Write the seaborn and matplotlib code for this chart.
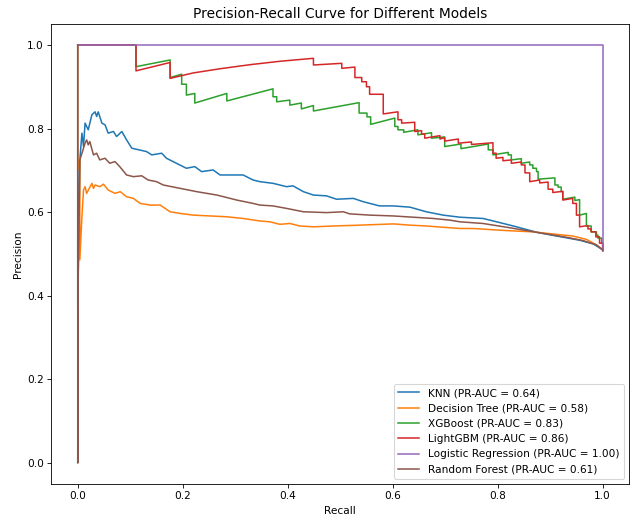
import matplotlib
matplotlib.use("Agg")
import matplotlib.pyplot as plt
import seaborn as sns
import pandas as pd

models = ["KNN", "Decision Tree", "XGBoost", "LightGBM", "Logistic Regression", "Random Forest"]
pr_auc = [0.64, 0.58, 0.83, 0.86, 1.00, 0.61]

knn_recall = [0.0, 0.0, 0.004, 0.008, 0.011, 0.014, 0.020, 0.027, 0.033, 0.036, 0.039, 0.046, 0.052, 0.058,
              0.068, 0.074, 0.084, 0.093, 0.103, 0.131, 0.141, 0.160, 0.169, 0.207, 0.223, 0.236, 0.258,
              0.271, 0.315, 0.334, 0.347, 0.372, 0.398, 0.410, 0.430, 0.449, 0.474, 0.493, 0.525, 0.544,
              0.575, 0.601, 0.633, 0.664, 0.696, 0.728, 0.772, 0.798, 0.836, 0.874, 0.912, 0.956, 0.982, 1.0]
knn_precision = [1.0, 0.37, 0.725, 0.789, 0.757, 0.813, 0.797, 0.833, 0.840, 0.829, 0.840, 0.813, 0.809, 0.789,
                 0.793, 0.781, 0.793, 0.773, 0.753, 0.745, 0.737, 0.741, 0.729, 0.705, 0.709, 0.697, 0.701,
                 0.689, 0.689, 0.677, 0.673, 0.669, 0.661, 0.663, 0.649, 0.641, 0.639, 0.631, 0.633, 0.625,
                 0.615, 0.615, 0.612, 0.601, 0.593, 0.588, 0.585, 0.577, 0.565, 0.552, 0.543, 0.533, 0.524, 0.510]

dt_recall = [0.0, 0.0, 0.004, 0.004, 0.008, 0.011, 0.014, 0.017, 0.027, 0.030, 0.033, 0.042, 0.049, 0.058,
             0.071, 0.081, 0.093, 0.106, 0.119, 0.138, 0.157, 0.176, 0.195, 0.220, 0.252, 0.284, 0.315,
             0.347, 0.366, 0.385, 0.404, 0.423, 0.449, 0.487, 0.537, 0.601, 0.633, 0.664, 0.696, 0.728,
             0.753, 0.817, 0.867, 0.912, 0.943, 0.969, 0.988, 1.0]
dt_precision = [1.0, 0.70, 0.732, 0.486, 0.589, 0.653, 0.661, 0.645, 0.669, 0.657, 0.665, 0.661, 0.667, 0.653,
                0.645, 0.649, 0.637, 0.633, 0.621, 0.617, 0.617, 0.601, 0.597, 0.593, 0.591, 0.589, 0.585,
                0.579, 0.577, 0.571, 0.573, 0.567, 0.565, 0.567, 0.569, 0.572, 0.569, 0.567, 0.564, 0.561,
                0.561, 0.556, 0.553, 0.547, 0.543, 0.535, 0.522, 0.510]

xgb_recall = [0.0, 0.111, 0.111, 0.176, 0.176, 0.198, 0.198, 0.207, 0.207, 0.223, 0.223, 0.284, 0.284,
              0.372, 0.372, 0.379, 0.379, 0.404, 0.404, 0.426, 0.426, 0.449, 0.449, 0.536, 0.536, 0.551,
              0.551, 0.558, 0.558, 0.604, 0.604, 0.610, 0.610, 0.621, 0.621, 0.648, 0.648, 0.674, 0.674,
              0.699, 0.699, 0.730, 0.730, 0.782, 0.782, 0.791, 0.791, 0.820, 0.820, 0.826, 0.826, 0.845,
              0.845, 0.861, 0.861, 0.867, 0.867, 0.874, 0.874, 0.877, 0.877, 0.909, 0.909, 0.915, 0.915,
              0.921, 0.921, 0.924, 0.924, 0.947, 0.947, 0.956, 0.956, 0.969, 0.969, 0.978, 0.978, 0.988,
              0.988, 0.991, 0.991, 0.998, 0.998, 1.0, 1.0]
xgb_precision = [1.0, 1.0, 0.948, 0.964, 0.922, 0.930, 0.906, 0.906, 0.880, 0.884, 0.861, 0.884, 0.866,
                 0.895, 0.876, 0.876, 0.864, 0.868, 0.856, 0.861, 0.847, 0.855, 0.842, 0.862, 0.837, 0.837,
                 0.828, 0.828, 0.810, 0.825, 0.805, 0.805, 0.797, 0.797, 0.791, 0.797, 0.785, 0.790, 0.777,
                 0.780, 0.757, 0.763, 0.752, 0.763, 0.749, 0.749, 0.737, 0.743, 0.737, 0.737, 0.725, 0.728,
                 0.717, 0.720, 0.713, 0.713, 0.705, 0.705, 0.697, 0.697, 0.679, 0.682, 0.665, 0.665, 0.660,
                 0.660, 0.649, 0.649, 0.631, 0.636, 0.628, 0.630, 0.593, 0.597, 0.567, 0.567, 0.553, 0.553,
                 0.545, 0.545, 0.538, 0.538, 0.526, 0.526, 0.508]

lgbm_recall = [0.0, 0.111, 0.111, 0.176, 0.176, 0.220, 0.271, 0.330, 0.386, 0.449, 0.449, 0.503, 0.503,
               0.528, 0.528, 0.541, 0.541, 0.550, 0.550, 0.556, 0.556, 0.582, 0.582, 0.610, 0.610, 0.617,
               0.617, 0.642, 0.642, 0.655, 0.655, 0.661, 0.661, 0.690, 0.690, 0.699, 0.699, 0.725, 0.725,
               0.750, 0.750, 0.791, 0.791, 0.797, 0.797, 0.810, 0.810, 0.826, 0.826, 0.845, 0.845, 0.852,
               0.852, 0.861, 0.861, 0.880, 0.880, 0.896, 0.896, 0.905, 0.905, 0.924, 0.924, 0.943, 0.943,
               0.950, 0.950, 0.956, 0.956, 0.972, 0.972, 0.978, 0.978, 0.987, 0.987, 0.994, 0.994, 1.0, 1.0]
lgbm_precision = [1.0, 1.0, 0.938, 0.958, 0.920, 0.933, 0.943, 0.953, 0.961, 0.968, 0.952, 0.956, 0.944,
                  0.947, 0.922, 0.922, 0.912, 0.912, 0.900, 0.900, 0.882, 0.882, 0.835, 0.840, 0.821, 0.821,
                  0.813, 0.815, 0.793, 0.795, 0.787, 0.787, 0.777, 0.783, 0.775, 0.778, 0.770, 0.775, 0.765,
                  0.768, 0.762, 0.766, 0.741, 0.741, 0.729, 0.731, 0.723, 0.725, 0.717, 0.720, 0.713, 0.713,
                  0.694, 0.694, 0.673, 0.677, 0.670, 0.672, 0.655, 0.655, 0.647, 0.650, 0.629, 0.633, 0.621,
                  0.621, 0.593, 0.593, 0.565, 0.568, 0.560, 0.560, 0.553, 0.553, 0.541, 0.541, 0.526, 0.526, 0.508]

lr_recall = [0.0, 1.0, 1.0]
lr_precision = [1.0, 1.0, 0.508]

rf_recall = [0.0, 0.0, 0.001, 0.004, 0.014, 0.017, 0.020, 0.023, 0.030, 0.036, 0.042, 0.052, 0.061, 0.071,
             0.080, 0.093, 0.106, 0.122, 0.134, 0.150, 0.163, 0.195, 0.227, 0.265, 0.303, 0.334, 0.347,
             0.372, 0.398, 0.430, 0.474, 0.506, 0.518, 0.556, 0.601, 0.639, 0.677, 0.709, 0.728, 0.772,
             0.817, 0.855, 0.893, 0.931, 0.963, 0.988, 1.0]
rf_precision = [1.0, 0.0, 0.45, 0.725, 0.765, 0.773, 0.761, 0.769, 0.737, 0.741, 0.725, 0.729, 0.717, 0.721,
                0.709, 0.689, 0.685, 0.687, 0.677, 0.673, 0.665, 0.657, 0.649, 0.641, 0.629, 0.621, 0.617,
                0.615, 0.609, 0.601, 0.599, 0.601, 0.596, 0.593, 0.591, 0.588, 0.585, 0.581, 0.577, 0.573,
                0.564, 0.556, 0.548, 0.540, 0.532, 0.522, 0.510]

recalls = [knn_recall, dt_recall, xgb_recall, lgbm_recall, lr_recall, rf_recall]
precisions = [knn_precision, dt_precision, xgb_precision, lgbm_precision, lr_precision, rf_precision]

frames = []
labels = []
for name, auc, r, p in zip(models, pr_auc, recalls, precisions):
    label = f"{name} (PR-AUC = {auc:.2f})"
    labels.append(label)
    frames.append(pd.DataFrame({"Recall": r, "Precision": p, "Model": label}))
df = pd.concat(frames, ignore_index=True)

DPI = 76
fig = plt.figure(figsize=(634 / DPI, 522 / DPI), dpi=DPI)
ax = fig.add_axes([0.0812, 0.0728, 0.9108, 0.8812])

palette = sns.color_palette("tab10", 6)
sns.lineplot(data=df, x="Recall", y="Precision", hue="Model", hue_order=labels,
             palette=palette, estimator=None, sort=False, linewidth=1.45, ax=ax)

ax.set_title("Precision-Recall Curve for Different Models", fontsize=13)
ax.set_xlabel("Recall")
ax.set_ylabel("Precision")
ax.set_xlim(-0.05, 1.05)
ax.set_ylim(-0.05, 1.05)
ax.set_xticks([0.0, 0.2, 0.4, 0.6, 0.8, 1.0])
ax.set_yticks([0.0, 0.2, 0.4, 0.6, 0.8, 1.0])
handles, lbls = ax.get_legend_handles_labels()
ax.legend(handles, lbls, loc="lower right")

fig.savefig("out.png", dpi=DPI)
